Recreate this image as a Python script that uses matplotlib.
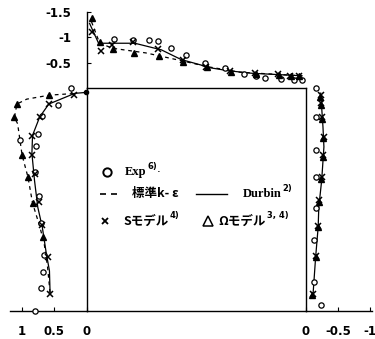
import matplotlib.pyplot as plt
from matplotlib.lines import Line2D

plt.rcParams['font.family'] = ['DejaVu Sans']
plt.rcParams['axes.unicode_minus'] = False

# --- top face: s = position along the face (0 left corner, 1 right corner), Cp
top_exp_s = [0.125, 0.21, 0.286, 0.324, 0.385, 0.454, 0.541, 0.633, 0.716, 0.771, 0.812, 0.885, 0.945, 0.982]
top_exp_cp = [-0.97, -0.95, -0.95, -0.93, -0.78, -0.65, -0.50, -0.39, -0.27, -0.24, -0.20, -0.17, -0.16, -0.16]
top_s_s = [0.023, 0.067, 0.118, 0.21, 0.327, 0.439, 0.546, 0.656, 0.766, 0.872, 0.927, 0.968]
top_s_cp = [-1.10, -0.73, -0.84, -0.91, -0.76, -0.55, -0.42, -0.33, -0.29, -0.27, -0.24, -0.24]
top_om_s = [0.023, 0.061, 0.12, 0.217, 0.332, 0.439, 0.55, 0.66, 0.77, 0.875, 0.93, 0.97]
top_om_cp = [-1.37, -0.91, -0.76, -0.69, -0.63, -0.52, -0.41, -0.32, -0.28, -0.26, -0.23, -0.23]
top_durbin_s = [0.014, 0.055, 0.22, 0.341, 0.431, 0.523, 0.546, 0.645, 0.752, 0.982]
top_durbin_cp = [-1.27, -0.88, -0.88, -0.75, -0.56, -0.45, -0.41, -0.34, -0.29, -0.24]
top_ke_s = [0.023, 0.06, 0.12, 0.27, 0.376, 0.45, 0.55, 0.70, 0.98]
top_ke_cp = [-1.30, -0.88, -0.78, -0.69, -0.59, -0.52, -0.42, -0.31, -0.24]

# --- left (front) face: t = position from top corner (0) to bottom (1), Cp
left_exp_cp = [0.246, 0.44, 0.68, 1.03, 0.75, 0.77, 0.80, 0.73, 0.70, 0.65, 0.67, 0.70, 0.80]
left_exp_t = [0.0, 0.077, 0.126, 0.231, 0.207, 0.261, 0.377, 0.486, 0.605, 0.75, 0.827, 0.898, 1.0]
left_s_cp = [0.20, 0.58, 0.72, 0.84, 0.84, 0.80, 0.73, 0.68, 0.60, 0.56]
left_s_t = [0.032, 0.072, 0.132, 0.216, 0.302, 0.385, 0.512, 0.613, 0.76, 0.922]
left_om_cp = [0.57, 1.07, 1.11, 0.99, 0.90, 0.83, 0.67]
left_om_t = [0.032, 0.072, 0.132, 0.302, 0.40, 0.516, 0.67]
left_durbin_cp = [0.015, 0.18, 0.58, 0.72, 0.83, 0.84, 0.80, 0.75, 0.68, 0.62, 0.57, 0.56]
left_durbin_t = [0.02, 0.024, 0.072, 0.13, 0.212, 0.293, 0.414, 0.534, 0.624, 0.739, 0.82, 0.923]
left_ke_cp = [0.20, 0.57, 0.92, 1.07, 1.11, 1.06, 0.99, 0.90, 0.83, 0.72, 0.65, 0.60, 0.56]
left_ke_t = [0.025, 0.032, 0.05, 0.072, 0.132, 0.16, 0.302, 0.40, 0.516, 0.62, 0.70, 0.80, 0.92]

# --- right (rear) face
right_exp_cp = [-0.16, -0.16, -0.15, -0.15, -0.16, -0.125, -0.125, -0.23]
right_exp_t = [0.0, 0.129, 0.276, 0.40, 0.539, 0.68, 0.872, 0.973]
right_s_cp = [-0.23, -0.23, -0.255, -0.28, -0.27, -0.255, -0.21, -0.19, -0.16, -0.11]
right_s_t = [0.032, 0.069, 0.132, 0.219, 0.302, 0.40, 0.502, 0.617, 0.752, 0.922]
right_om_cp = [-0.22, -0.23, -0.25, -0.27, -0.26, -0.24, -0.20, -0.18, -0.15, -0.10]
right_om_t = [0.04, 0.075, 0.14, 0.225, 0.31, 0.41, 0.51, 0.625, 0.76, 0.93]
right_durbin_cp = [-0.23, -0.265, -0.28, -0.245, -0.20, -0.19, -0.15, -0.11]
right_durbin_t = [0.023, 0.174, 0.264, 0.414, 0.534, 0.624, 0.76, 0.925]

top_ticks = [-1.5, -1, -0.5]
top_labels = ['-1.5', '-1', '-0.5']
left_ticks = [1, 0.5, 0]
left_labels = ['1', '0.5', '0']
right_ticks = [0, -0.5, -1]
right_labels = ['0', '-0.5', '-1']

W, H = 375, 339
fig = plt.figure(figsize=(3.75, 3.39), dpi=100)


def px_axes(x0, y0, x1, y1):
    return fig.add_axes([x0 / W, 1 - y1 / H, (x1 - x0) / W, (y1 - y0) / H])


exp_kw = dict(ls='none', marker='o', ms=3.8, mfc='white', mec='black', mew=0.9, clip_on=False, zorder=4)
s_kw = dict(ls='none', marker='x', ms=4.2, color='black', mew=1.1, clip_on=False, zorder=5)
om_kw = dict(ls='none', marker='^', ms=4.2, color='black', clip_on=False, zorder=5)
dur_kw = dict(color='black', lw=0.9, clip_on=False, zorder=3)
ke_kw = dict(color='black', lw=0.9, ls=(0, (3, 3)), clip_on=False, zorder=3)
tick_font = dict(fontsize=8.5, fontweight='bold')

# square
box = px_axes(86.5, 88, 306, 311)
box.set_xticks([])
box.set_yticks([])
for sp in box.spines.values():
    sp.set_linewidth(1.0)

# top face
top = px_axes(86.5, 11.7, 306, 88)
top.patch.set_visible(False)
top.set_xlim(0, 1)
top.set_ylim(0, -1.5)
for k in ['top', 'right', 'bottom']:
    top.spines[k].set_visible(False)
top.spines['left'].set_linewidth(1.0)
top.set_xticks([])
top.set_yticks(top_ticks)
top.set_yticklabels(top_labels, **tick_font)
top.tick_params(axis='y', direction='in', length=3, pad=11)
top.plot(top_ke_s, top_ke_cp, **ke_kw)
top.plot(top_durbin_s, top_durbin_cp, **dur_kw)
top.plot(top_exp_s, top_exp_cp, **exp_kw)
top.plot(top_om_s, top_om_cp, **om_kw)
top.plot(top_s_s, top_s_cp, **s_kw)

# left face
left = px_axes(10, 88, 86.5, 311)
left.patch.set_visible(False)
left.set_xlim((86.5 - 10) / 65, 0)
left.set_ylim(1, 0)
for k in ['top', 'right', 'left']:
    left.spines[k].set_visible(False)
left.spines['bottom'].set_linewidth(1.0)
left.set_yticks([])
left.set_xticks(left_ticks)
left.set_xticklabels(left_labels, **tick_font)
left.tick_params(axis='x', direction='in', length=3, pad=10)
left.plot(left_ke_cp, left_ke_t, **ke_kw)
left.plot(left_durbin_cp, left_durbin_t, marker='o', ms=3, markevery=[0], **dur_kw)
left.plot(left_exp_cp, left_exp_t, **exp_kw)
left.plot(left_om_cp, left_om_t, **om_kw)
left.plot(left_s_cp, left_s_t, **s_kw)

# right face
right = px_axes(306, 88, 372, 311)
right.patch.set_visible(False)
right.set_xlim(0, -(372 - 306) / 64)
right.set_ylim(1, 0)
for k in ['top', 'right', 'left']:
    right.spines[k].set_visible(False)
right.spines['bottom'].set_linewidth(1.0)
right.set_yticks([])
right.set_xticks(right_ticks)
right.set_xticklabels(right_labels, **tick_font)
right.tick_params(axis='x', direction='in', length=3, pad=10)
right.plot(right_durbin_cp, right_durbin_t, **dur_kw)
right.plot(right_exp_cp, right_exp_t, **exp_kw)
right.plot(right_om_cp, right_om_t, **om_kw)
right.plot(right_s_cp, right_s_t, **s_kw)

# legend, drawn by hand inside the square
tf = fig.transFigure


def fx(x):
    return x / W


def fy(y):
    return 1 - y / H


jp = ['Noto Sans CJK JP', 'DejaVu Sans']
serif = ['Liberation Serif', 'DejaVu Serif']


def label(x, y, txt, sup, family, size=9, after=None):
    t = fig.text(fx(x), fy(y), txt, family=family, fontsize=size, fontweight='bold',
                 va='center', ha='left')
    s = box.annotate(sup, xy=(1.03, 0.6), xycoords=t, fontsize=6, fontweight='bold',
                     family=['DejaVu Sans'], va='bottom', ha='left')
    if after:
        box.annotate(after, xy=(1.0, 0.2), xycoords=(s, t), fontsize=8.5,
                     family=['DejaVu Sans'], va='bottom', ha='left')
    return t


box.add_line(Line2D([fx(106.7)], [fy(171.7)], transform=tf, marker='o', ms=6,
                    mfc='white', mec='black', mew=1.4, ls='none'))
label(125, 171.7, 'Exp', '6)', serif, after='.')

box.add_line(Line2D([fx(100), fx(122)], [fy(194), fy(194)], transform=tf, color='black',
                    lw=1.2, ls=(0, (3.6, 3.0))))
label(131.7, 194, '標準k- ε', '', jp)
box.add_line(Line2D([fx(196), fx(227)], [fy(194), fy(194)], transform=tf, color='black', lw=1.0))
label(242.7, 194, 'Durbin', '2)', serif)

box.add_line(Line2D([fx(105)], [fy(221)], transform=tf, marker='x', ms=5,
                    color='black', mew=1.3, ls='none'))
label(123.3, 221, 'Sモデル', '4)', jp)
box.add_line(Line2D([fx(208.3)], [fy(221)], transform=tf, marker='^', ms=6.5,
                    mfc='white', mec='black', mew=1.1, ls='none'))
label(218.3, 221, 'Ωモデル', '3, 4)', jp)

fig.savefig('out.png', dpi=100)
